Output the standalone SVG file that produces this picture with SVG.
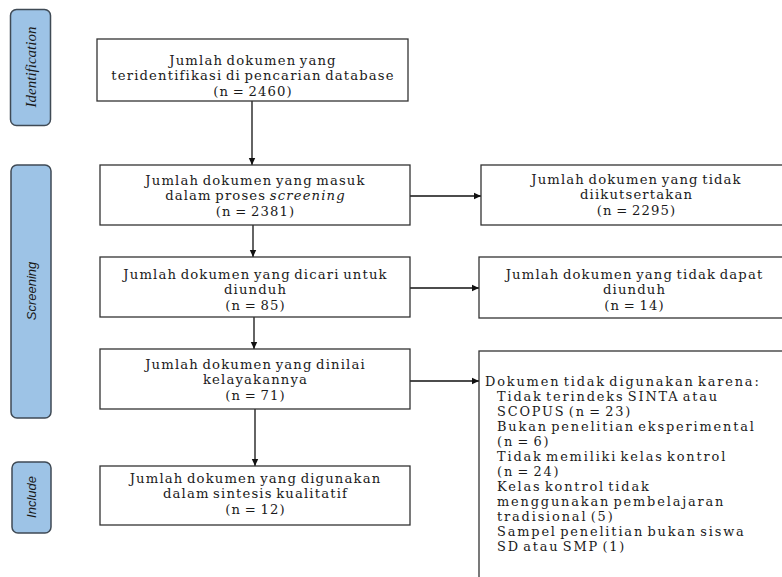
<svg xmlns="http://www.w3.org/2000/svg" width="782" height="577" viewBox="0 0 782 577">
<style>
.box{fill:#ffffff;stroke:#333333;stroke-width:1.3}
.pill{fill:#9dc3e6;stroke:#3f4a55;stroke-width:1.5}
.t{font-family:"DejaVu Serif","Liberation Serif",serif;font-size:13.2px;letter-spacing:1.15px;word-spacing:-1.8px;fill:#1a1a1a;text-anchor:middle}
.tl{font-family:"DejaVu Serif","Liberation Serif",serif;font-size:12.9px;letter-spacing:1.85px;word-spacing:-2.6px;fill:#1a1a1a}
.lab{font-family:"Liberation Sans","DejaVu Sans",sans-serif;font-size:13px;font-style:italic;fill:#1a1a1a;text-anchor:middle}
.labs{font-family:"Liberation Serif",serif;font-size:15px;font-style:italic;fill:#1a1a1a;text-anchor:middle}
.c{stroke:#111111;stroke-width:1.3;fill:none;marker-end:url(#ah)}
</style>
<defs>
<marker id="ah" markerWidth="8" markerHeight="8" refX="7" refY="4" orient="auto" markerUnits="userSpaceOnUse">
<path d="M0,0.8 L7,4 L0,7.2 Z" fill="#111111"/>
</marker>
</defs>
<rect width="782" height="577" fill="#ffffff"/>

<g id="phase-identification">
<rect class="pill" x="10.5" y="9.5" width="40" height="116" rx="6"/>
<text class="labs" transform="translate(36,67) rotate(-90)">Identification</text>
</g>
<g id="phase-screening">
<rect class="pill" x="11" y="165" width="40" height="253" rx="6"/>
<text class="lab" transform="translate(35.5,291) rotate(-90)">Screening</text>
</g>
<g id="phase-include">
<rect class="pill" x="12" y="462" width="39" height="71" rx="6"/>
<text class="lab" transform="translate(35.5,497) rotate(-90)">Include</text>
</g>

<g id="connectors">
<line class="c" x1="252" y1="101" x2="252" y2="165"/>
<line class="c" x1="253" y1="225" x2="253" y2="257"/>
<line class="c" x1="254" y1="317" x2="254" y2="349"/>
<line class="c" x1="255" y1="409" x2="255" y2="466"/>
<line class="c" x1="410" y1="196" x2="481" y2="196"/>
<line class="c" x1="410" y1="288" x2="479" y2="288"/>
<line class="c" x1="410" y1="381" x2="479" y2="381"/>
</g>

<g id="n1">
<rect class="box" x="97" y="39" width="311" height="62"/>
<text class="t"><tspan x="253" y="65">Jumlah dokumen yang</tspan><tspan x="253" y="80.4">teridentifikasi di pencarian database</tspan><tspan x="253" y="95.8">(n = 2460)</tspan></text>
</g>
<g id="n2">
<rect class="box" x="100" y="165" width="310" height="60"/>
<text class="t"><tspan x="255.5" y="185">Jumlah dokumen yang masuk</tspan><tspan x="255.5" y="200.4">dalam proses <tspan font-style="italic">screening</tspan></tspan><tspan x="255.5" y="215.8">(n = 2381)</tspan></text>
</g>
<g id="n3">
<rect class="box" x="100" y="257" width="310" height="60"/>
<text class="t"><tspan x="255.5" y="279">Jumlah dokumen yang dicari untuk</tspan><tspan x="255.5" y="294.4">diunduh</tspan><tspan x="255.5" y="309.8">(n = 85)</tspan></text>
</g>
<g id="n4">
<rect class="box" x="100" y="349" width="310" height="60"/>
<text class="t"><tspan x="255.5" y="369">Jumlah dokumen yang dinilai</tspan><tspan x="255.5" y="384.4">kelayakannya</tspan><tspan x="255.5" y="399.8">(n = 71)</tspan></text>
</g>
<g id="n5">
<rect class="box" x="100" y="466" width="310" height="59"/>
<text class="t"><tspan x="255.5" y="483">Jumlah dokumen yang digunakan</tspan><tspan x="255.5" y="498.4">dalam sintesis kualitatif</tspan><tspan x="255.5" y="513.8">(n = 12)</tspan></text>
</g>
<g id="nA">
<rect class="box" x="481" y="165" width="310" height="60"/>
<text class="t"><tspan x="636.5" y="184">Jumlah dokumen yang tidak</tspan><tspan x="636.5" y="199.4">diikutsertakan</tspan><tspan x="636.5" y="214.8">(n = 2295)</tspan></text>
</g>
<g id="nB">
<rect class="box" x="479" y="257" width="310" height="61"/>
<text class="t"><tspan x="634.5" y="279">Jumlah dokumen yang tidak dapat</tspan><tspan x="634.5" y="294.4">diunduh</tspan><tspan x="634.5" y="309.8">(n = 14)</tspan></text>
</g>
<g id="nC">
<rect class="box" x="479" y="351" width="320" height="240"/>
<text class="tl"><tspan x="485" y="386">Dokumen tidak digunakan karena:</tspan><tspan x="497" y="401">Tidak terindeks SINTA atau</tspan><tspan x="497" y="416">SCOPUS (n = 23)</tspan><tspan x="497" y="431">Bukan penelitian eksperimental</tspan><tspan x="497" y="446">(n = 6)</tspan><tspan x="497" y="461">Tidak memiliki kelas kontrol</tspan><tspan x="497" y="476">(n = 24)</tspan><tspan x="497" y="491">Kelas kontrol tidak</tspan><tspan x="497" y="506">menggunakan pembelajaran</tspan><tspan x="497" y="521">tradisional (5)</tspan><tspan x="497" y="536">Sampel penelitian bukan siswa</tspan><tspan x="497" y="551">SD atau SMP (1)</tspan></text>
</g>
</svg>
